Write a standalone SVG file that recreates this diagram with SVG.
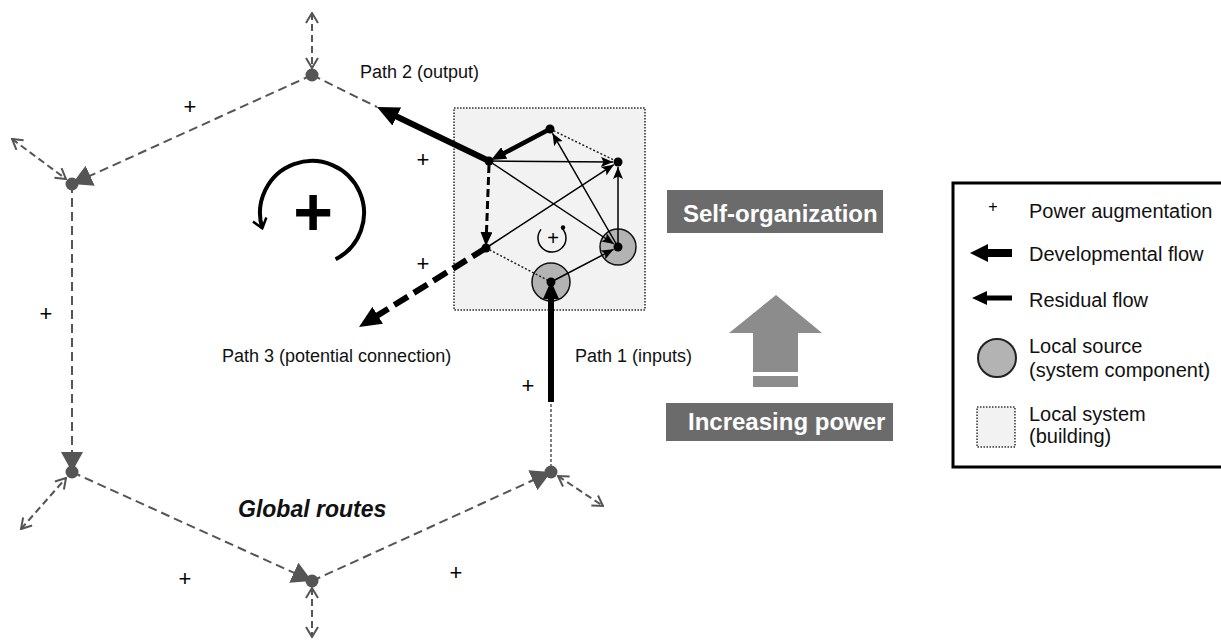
<svg xmlns="http://www.w3.org/2000/svg" width="1221" height="642" viewBox="0 0 1221 642">
<style>
  text { font-family: "Liberation Sans", Arial, sans-serif; }
  .lbl { font-size: 18px; fill: #111; }
  .leg { font-size: 20px; fill: #111; }
  .plus { font-size: 22px; fill: #000; text-anchor: middle; }
  .route { fill: none; stroke: #555; stroke-width: 2; stroke-dasharray: 9 5; marker-end: url(#tri); }
  .ext { fill: none; stroke: #555; stroke-width: 2; stroke-dasharray: 7 4; marker-start: url(#chev); marker-end: url(#chev); }
  .gdot { fill: #555; }
  .thin { stroke: #000; stroke-width: 1.5; fill: none; marker-end: url(#ah); }
  .dotted { stroke: #222; stroke-width: 1.5; stroke-dasharray: 2 2; fill: none; }
  .node { fill: #000; }
  .src { fill: #b3b3b3; stroke: #111; stroke-width: 1.5; }
  .btn { fill: #6b6b6b; }
  .btxt { font-size: 24px; font-weight: bold; fill: #fff; }
</style>
<defs>
  <marker id="tri" viewBox="0 0 20 22" refX="20" refY="11" markerWidth="20" markerHeight="22" markerUnits="userSpaceOnUse" orient="auto">
    <path d="M0,0 L20,11 L0,22 z" fill="#555"/>
  </marker>
  <marker id="chev" viewBox="0 0 12 14" refX="11" refY="7" markerWidth="12" markerHeight="14" markerUnits="userSpaceOnUse" orient="auto-start-reverse">
    <path d="M1,1 L11,7 L1,13" fill="none" stroke="#555" stroke-width="2"/>
  </marker>
  <marker id="ah" viewBox="0 0 12 10" refX="12" refY="5" markerWidth="12" markerHeight="10" markerUnits="userSpaceOnUse" orient="auto">
    <path d="M0,0 L12,5 L0,10 L2.5,5 z" fill="#000"/>
  </marker>
  <marker id="hbig" viewBox="0 0 22 20" refX="2" refY="10" markerWidth="22" markerHeight="20" markerUnits="userSpaceOnUse" orient="auto">
    <path d="M0,0 L22,10 L0,20 z" fill="#000"/>
  </marker>
  <marker id="hp1" viewBox="0 0 18 16" refX="2" refY="8" markerWidth="18" markerHeight="16" markerUnits="userSpaceOnUse" orient="auto">
    <path d="M0,0 L18,8 L0,16 z" fill="#000"/>
  </marker>
  <marker id="hmed" viewBox="0 0 15 13" refX="2" refY="6.5" markerWidth="15" markerHeight="13" markerUnits="userSpaceOnUse" orient="auto">
    <path d="M0,0 L15,6.5 L0,13 z" fill="#000"/>
  </marker>
  <marker id="hdash" viewBox="0 0 14 12" refX="2" refY="6" markerWidth="14" markerHeight="12" markerUnits="userSpaceOnUse" orient="auto">
    <path d="M0,0 L14,6 L0,12 z" fill="#000"/>
  </marker>
  <marker id="bigchev" viewBox="0 0 12 16" refX="10" refY="8" markerWidth="12" markerHeight="16" markerUnits="userSpaceOnUse" orient="auto">
    <path d="M1,1 L10,8 L1,15" fill="none" stroke="#000" stroke-width="2.5"/>
  </marker>
</defs>

<rect width="1221" height="642" fill="#fff"/>

<!-- Local system (building) -->
<g id="local-system">
  <rect x="454" y="108" width="191" height="202" fill="#f2f2f2" stroke="#333" stroke-width="1.6" stroke-dasharray="1.6 1.4"/>
</g>
<g id="source-e"><circle cx="618" cy="247" r="18" class="src"/></g>
<g id="source-f"><circle cx="551" cy="282" r="19" class="src"/></g>

<!-- Connectors -->
<g id="connectors">
  <!-- global routes -->
  <path class="route" d="M312,75 L72,184"/>
  <path class="route" d="M72,184 L72,472"/>
  <path class="route" d="M72,472 L312,581"/>
  <path class="route" d="M312,581 L551,472"/>
  <path d="M312,75 L377,107" fill="none" stroke="#555" stroke-width="2" stroke-dasharray="9 5"/>
  <path d="M551,472 L551,402" fill="none" stroke="#555" stroke-width="1.5" stroke-dasharray="3 2"/>
  <!-- external bidirectional -->
  <path class="ext" d="M312,13 L312,68"/>
  <path class="ext" d="M12,139 L66,179"/>
  <path class="ext" d="M21,529 L66,478"/>
  <path class="ext" d="M312,588 L312,637"/>
  <path class="ext" d="M558,476 L603,506"/>
  <!-- inner dotted -->
  <path class="dotted" d="M550,129 L618,162"/>
  <path class="dotted" d="M486,248 L551,282"/>
  <!-- inner thin arrows -->
  <path class="thin" d="M489,161 L613,162"/>
  <path class="thin" d="M489,161 L614,244"/>
  <path class="thin" d="M486,248 L613.8,164.7"/>
  <path class="thin" d="M618,247 L552.5,133.3"/>
  <path class="thin" d="M618,247 L618,167"/>
  <path class="thin" d="M551,282 L613.6,249.3"/>
  <!-- developmental A to B -->
  <path d="M550,129 L502.5,154" fill="none" stroke="#000" stroke-width="4.5" marker-end="url(#hmed)"/>
  <!-- B to D dashed -->
  <path d="M489,165 L486.4,234" fill="none" stroke="#000" stroke-width="3" stroke-dasharray="8 4" marker-end="url(#hdash)"/>
  <!-- Path 2 -->
  <path d="M489,161 L395,115.7" fill="none" stroke="#000" stroke-width="6" marker-end="url(#hbig)"/>
  <!-- Path 3 -->
  <path d="M486,248 L376,316.4" fill="none" stroke="#000" stroke-width="6" stroke-dasharray="16 7" marker-end="url(#hbig)"/>
  <!-- Path 1 -->
  <path d="M551,402 L551,297" fill="none" stroke="#000" stroke-width="6" marker-end="url(#hp1)"/>
  <!-- big loop -->
  <path d="M335.6,259.3 A52,52 0 1 0 262.3,228.2" fill="none" stroke="#000" stroke-width="4" marker-end="url(#bigchev)"/>
  <!-- small loop -->
  <path d="M541,229.4 A14,14 0 1 0 562.2,228.5" fill="none" stroke="#000" stroke-width="1.5"/>
  <circle cx="563" cy="227.5" r="2.2" fill="#000"/>
</g>

<!-- Global route vertices -->
<g id="v-top"><circle cx="312" cy="75" r="6.5" class="gdot"/></g>
<g id="v-left-upper"><circle cx="72" cy="184" r="6.5" class="gdot"/></g>
<g id="v-left-lower"><circle cx="72" cy="472" r="6.5" class="gdot"/></g>
<g id="v-bottom"><circle cx="312" cy="581" r="6.5" class="gdot"/></g>
<g id="v-right-lower"><circle cx="551" cy="472" r="6.5" class="gdot"/></g>

<!-- Inner nodes -->
<g id="n-a"><circle cx="550" cy="129" r="4.5" class="node"/></g>
<g id="n-b"><circle cx="489" cy="161" r="4.5" class="node"/></g>
<g id="n-c"><circle cx="618" cy="162" r="4.5" class="node"/></g>
<g id="n-d"><circle cx="486" cy="248" r="4.5" class="node"/></g>
<g id="n-e"><circle cx="618" cy="247" r="4.5" class="node"/></g>
<g id="n-f"><circle cx="551" cy="282" r="4.5" class="node"/></g>

<!-- Plus signs -->
<g id="plus-signs">
  <text class="plus" x="190" y="114">+</text>
  <text class="plus" x="423" y="167">+</text>
  <text class="plus" x="423" y="271">+</text>
  <text class="plus" x="46" y="321">+</text>
  <text class="plus" x="185" y="586">+</text>
  <text class="plus" x="456" y="580">+</text>
  <text class="plus" x="528" y="393">+</text>
  <text x="313" y="235" font-size="68" font-weight="bold" text-anchor="middle">+</text>
  <text x="553" y="245" font-size="20" text-anchor="middle">+</text>
</g>

<!-- Labels -->
<g id="labels">
  <text class="lbl" x="360" y="78">Path 2 (output)</text>
  <text class="lbl" x="222" y="362">Path 3 (potential connection)</text>
  <text class="lbl" x="575" y="362">Path 1 (inputs)</text>
  <text x="238" y="517" font-size="23" font-weight="bold" font-style="italic" fill="#111">Global routes</text>
</g>

<!-- Self-organization / Increasing power -->
<g id="self-organization">
  <rect x="667" y="190" width="216" height="43" class="btn"/>
  <text class="btxt" x="683" y="222">Self-organization</text>
</g>
<g id="increasing-power">
  <rect x="666" y="403" width="227" height="38" class="btn"/>
  <text class="btxt" x="688" y="430">Increasing power</text>
</g>
<g id="up-arrow">
  <polygon points="729,333 776,295 822,333 798,333 798,372 753,372 753,333" fill="#8c8c8c"/>
  <rect x="753" y="376" width="45" height="11" fill="#8c8c8c"/>
</g>

<!-- Legend -->
<g id="legend">
  <rect x="953" y="183" width="300" height="284" fill="#fff" stroke="#000" stroke-width="3"/>
  <text x="993" y="212" font-size="16" text-anchor="middle">+</text>
  <text class="leg" x="1029" y="218">Power augmentation</text>
  <polygon points="970,253 988,244 988,249 1012,249 1012,257 988,257 988,262" fill="#000"/>
  <text class="leg" x="1029" y="261">Developmental flow</text>
  <polygon points="972,298 987,291 987,295.5 1012,295.5 1012,300.5 987,300.5 987,305" fill="#000"/>
  <text class="leg" x="1029" y="307">Residual flow</text>
  <circle cx="997" cy="358" r="19" fill="#b3b3b3" stroke="#222" stroke-width="2"/>
  <text class="leg" x="1029" y="353">Local source</text>
  <text class="leg" x="1029" y="377">(system component)</text>
  <rect x="977" y="407" width="38" height="40" fill="#f2f2f2" stroke="#333" stroke-width="1.5" stroke-dasharray="1.5 1.5"/>
  <text class="leg" x="1029" y="421">Local system</text>
  <text class="leg" x="1029" y="443">(building)</text>
</g>
</svg>
